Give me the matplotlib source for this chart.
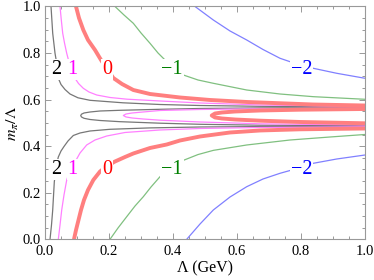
import matplotlib
matplotlib.use("Agg")
import matplotlib.pyplot as plt

# ---------------- data ----------------
levels = [2, 1, 0, -1, -2]
level_labels = ["2", "1", "0", "\u22121", "\u22122"]
label_x = [0.038, 0.088, 0.196, 0.397, 0.802]
label_y_upper = 0.730
label_y_lower = 0.301

# level 2 (gray)
l2_up_x = [0.0203, 0.0256, 0.0328, 0.0374, 0.0399, 0.0431, 0.0515, 0.0640, 0.0796, 0.1045, 0.1420, 0.2450, 0.3604, 0.4852, 0.6724, 1.0]
l2_up_y = [1.0, 0.8849, 0.7990, 0.7616, 0.7272, 0.6916, 0.6649, 0.6434, 0.6241, 0.6078, 0.5970, 0.5863, 0.5790, 0.5747, 0.5713, 0.5683]
l2_hp_x = [1.0, 0.6724, 0.4852, 0.3604, 0.2356, 0.1732, 0.1420, 0.1232, 0.1154, 0.1129, 0.1154, 0.1232, 0.1420, 0.1732, 0.2356, 0.3604, 0.4852, 0.6724, 1.0]
l2_hp_y = [0.5657, 0.5644, 0.5619, 0.5584, 0.5541, 0.5511, 0.5468, 0.5425, 0.5374, 0.5314, 0.5254, 0.5198, 0.5146, 0.5103, 0.5052, 0.4987, 0.4940, 0.4901, 0.4880]
l2_lo_x = [0.0172, 0.0218, 0.0256, 0.0306, 0.0337, 0.0374, 0.0431, 0.0515, 0.0608, 0.0733, 0.0899, 0.1108, 0.1420, 0.2044, 0.3292, 0.4852, 0.6724, 1.0]
l2_lo_y = [0.0, 0.0614, 0.1259, 0.2474, 0.2762, 0.3192, 0.3535, 0.3793, 0.3986, 0.4223, 0.4459, 0.4566, 0.4652, 0.4725, 0.4785, 0.4824, 0.4841, 0.4854]

# level 1 (magenta)
l1_up_x = [0.0484, 0.0524, 0.0568, 0.0624, 0.0693, 0.0764, 0.0842, 0.0905, 0.0952, 0.1061, 0.1211, 0.1388, 0.1629, 0.2044, 0.2574, 0.3604, 0.4852, 0.6724, 1.0]
l1_up_y = [1.0, 0.9420, 0.8849, 0.8432, 0.7990, 0.7616, 0.7272, 0.7036, 0.6916, 0.6692, 0.6486, 0.6327, 0.6198, 0.6091, 0.6018, 0.5941, 0.5855, 0.5770, 0.5704]
l1_hp_x = [1.0, 0.6724, 0.4852, 0.3604, 0.3073, 0.2730, 0.2543, 0.2459, 0.2543, 0.2730, 0.3073, 0.3604, 0.4852, 0.6724, 1.0]
l1_hp_y = [0.5640, 0.5606, 0.5576, 0.5533, 0.5468, 0.5425, 0.5382, 0.5318, 0.5254, 0.5211, 0.5168, 0.5116, 0.5039, 0.4961, 0.4910]
l1_lo_x = [0.0431, 0.0484, 0.0537, 0.0608, 0.0693, 0.0796, 0.0952, 0.1108, 0.1316, 0.1576, 0.1941, 0.2512, 0.3604, 0.4852, 0.6724, 1.0]
l1_lo_y = [0.0, 0.0614, 0.1259, 0.1903, 0.2547, 0.2977, 0.3321, 0.3707, 0.4051, 0.4266, 0.4437, 0.4588, 0.4695, 0.4760, 0.4802, 0.4832]

# level 0 (red)
l0_up_x = [0.0983, 0.1076, 0.1211, 0.1357, 0.1576, 0.1763, 0.1950, 0.2147, 0.2418, 0.2771, 0.3292, 0.4228, 0.5164, 0.6309, 0.8378, 1.0]
l0_up_y = [1.0, 0.9506, 0.8991, 0.8561, 0.8131, 0.7702, 0.7315, 0.6929, 0.6671, 0.6413, 0.6241, 0.6091, 0.5984, 0.5898, 0.5790, 0.5747]
l0_hp_x = [1.0, 0.7972, 0.6724, 0.5944, 0.5538, 0.5320, 0.5217, 0.5320, 0.5538, 0.5944, 0.6724, 0.7972, 1.0]
l0_hp_y = [0.5597, 0.5567, 0.5533, 0.5490, 0.5447, 0.5404, 0.5318, 0.5232, 0.5189, 0.5146, 0.5095, 0.5039, 0.4983]
l0_lo_x = [0.0920, 0.0983, 0.1061, 0.1139, 0.1232, 0.1357, 0.1523, 0.1732, 0.1950, 0.2200, 0.2512, 0.2771, 0.3292, 0.3813, 0.4228, 0.4852, 0.5788, 0.6724, 0.7972, 1.0]
l0_lo_y = [0.0, 0.0399, 0.0829, 0.1259, 0.1688, 0.2118, 0.2547, 0.2912, 0.3149, 0.3342, 0.3535, 0.3686, 0.3922, 0.4072, 0.4244, 0.4416, 0.4588, 0.4674, 0.4725, 0.4759]

# level -1 (green)
lm1_up_x = [0.2200, 0.2480, 0.2771, 0.3011, 0.3292, 0.3541, 0.3813, 0.4072, 0.4331, 0.4789, 0.5267, 0.6309, 0.7348, 0.8387, 1.0]
lm1_up_y = [1.0, 0.9635, 0.9278, 0.8862, 0.8419, 0.8003, 0.7629, 0.7337, 0.7058, 0.6843, 0.6701, 0.6413, 0.6241, 0.6126, 0.6014]
lm1_lo_x = [0.2044, 0.2293, 0.2565, 0.2824, 0.3083, 0.3323, 0.3604, 0.3970, 0.4331, 0.4789, 0.5267, 0.6309, 0.7660, 0.8908, 1.0]
lm1_lo_y = [0.0, 0.0485, 0.0971, 0.1430, 0.1830, 0.2247, 0.2689, 0.3050, 0.3390, 0.3640, 0.3820, 0.4051, 0.4265, 0.4394, 0.4502]

# level -2 (blue)
lm2_up_x = [0.4696, 0.5267, 0.5788, 0.6309, 0.6817, 0.7348, 0.7660, 0.8025, 0.8387, 0.9117, 1.0]
lm2_up_y = [1.0, 0.9420, 0.8948, 0.8561, 0.8153, 0.7775, 0.7629, 0.7480, 0.7345, 0.7131, 0.6916]
lm2_lo_x = [0.4437, 0.4852, 0.5267, 0.5788, 0.6309, 0.6817, 0.7348, 0.7660, 0.8025, 0.8387, 0.9117, 1.0]
lm2_lo_y = [0.0, 0.0657, 0.1259, 0.1817, 0.2259, 0.2590, 0.2835, 0.2955, 0.3110, 0.3265, 0.3449, 0.3621]

x_ticks = [0.0, 0.2, 0.4, 0.6, 0.8, 1.0]
y_ticks = [0.0, 0.2, 0.4, 0.6, 0.8, 1.0]

# ---------------- styles ----------------
line_colors = ["#777777", "#ff80ff", "#ff7f7f", "#80c080", "#8080ff"]
text_colors = ["#000000", "#ff00ff", "#ff0000", "#008000", "#0000ff"]
line_widths = [0.9, 0.9, 2.8, 0.9, 0.9]

plt.rcParams["mathtext.fontset"] = "stix"
serif = "Liberation Serif"

fig = plt.figure(figsize=(3.74, 2.80), dpi=100)
ax = fig.add_axes([0.119, 0.1454, 0.857, 0.8314])

branches = [
    [(l2_up_x, l2_up_y), (l2_hp_x, l2_hp_y), (l2_lo_x, l2_lo_y)],
    [(l1_up_x, l1_up_y), (l1_hp_x, l1_hp_y), (l1_lo_x, l1_lo_y)],
    [(l0_up_x, l0_up_y), (l0_hp_x, l0_hp_y), (l0_lo_x, l0_lo_y)],
    [(lm1_up_x, lm1_up_y), (lm1_lo_x, lm1_lo_y)],
    [(lm2_up_x, lm2_up_y), (lm2_lo_x, lm2_lo_y)],
]
for i, br in enumerate(branches):
    for bx, by in br:
        ax.plot(bx, by, color=line_colors[i], lw=line_widths[i],
                solid_joinstyle="round", solid_capstyle="butt", zorder=2)

for i, lab in enumerate(level_labels):
    for ly in (label_y_upper, label_y_lower):
        ax.text(label_x[i], ly, lab, color=text_colors[i], fontsize=14.5,
                family=serif, ha="center", va="center", zorder=5,
                bbox=dict(boxstyle="square,pad=0.05", fc="white", ec="none"))

ax.set_xlim(0, 1)
ax.set_ylim(0, 1)
ax.set_xticks(x_ticks)
ax.set_yticks(y_ticks)
ax.set_xticklabels([f"{t:.1f}" for t in x_ticks], family=serif, fontsize=10.5)
ax.set_yticklabels([f"{t:.1f}" for t in y_ticks], family=serif, fontsize=10.5)
ax.xaxis.set_minor_locator(matplotlib.ticker.MultipleLocator(0.05))
ax.yaxis.set_minor_locator(matplotlib.ticker.MultipleLocator(0.05))
ax.tick_params(which="both", direction="in", top=True, right=True, color="#999999", width=0.7)
ax.tick_params(which="major", length=4)
ax.tick_params(which="minor", length=2.2)
ax.tick_params(axis="x", which="major", pad=4)
ax.tick_params(axis="y", which="major", pad=2.5)
for s in ax.spines.values():
    s.set_color("#999999")
    s.set_linewidth(0.8)

ax.set_xlabel("\u039b (GeV)", family=serif, fontsize=11.5, labelpad=2)
ax.set_ylabel(r"$m_{\pi}/\Lambda$", fontsize=11.5, labelpad=1)

fig.savefig("out.png", dpi=100)
